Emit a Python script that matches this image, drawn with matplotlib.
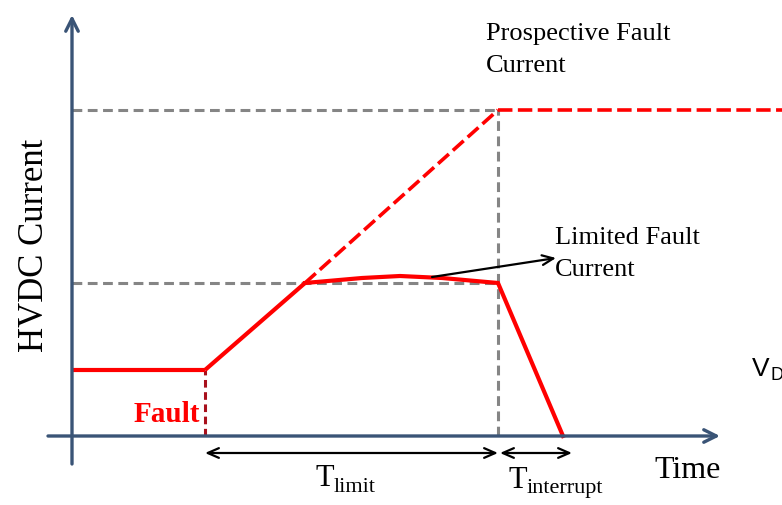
import matplotlib
matplotlib.use("Agg")
import matplotlib.pyplot as plt

## data (time and current in schematic units, origin at the axes crossing)
t_pre = [0.0, 1.33]
i_pre = [0.66, 0.66]

t_ramp = [1.33, 2.33]
i_ramp = [0.66, 1.53]

t_prosp = [2.33, 4.26]
i_prosp = [1.53, 3.26]
t_prosp_flat = [4.26, 7.2]
i_prosp_flat = [3.26, 3.26]

t_lim = [2.33, 2.9, 3.28, 3.7, 4.26, 4.91]
i_lim = [1.53, 1.58, 1.60, 1.58, 1.53, 0.0]

t_fault = 1.33
t_clear = 4.26
t_zero = 4.91
i_limit_level = 1.53
i_prosp_level = 3.26

## colors
red = "#ff0000"
darkred = "#a8101c"
gray = "#858585"
axis_col = "#3a5476"

plt.rcParams["font.family"] = ["Liberation Serif", "DejaVu Serif"]

fig = plt.figure(figsize=(7.82, 5.05), dpi=100)
ax = fig.add_axes([0, 0, 1, 1])
ax.set_xlim(-0.72, 7.10)
ax.set_ylim(-0.69, 4.36)
ax.axis("off")

# axes with open arrow heads
ax.annotate("", xy=(0, 4.21), xytext=(0, -0.28),
            arrowprops=dict(arrowstyle="->,head_length=0.9,head_width=0.45",
                            color=axis_col, lw=2.4, shrinkA=0, shrinkB=0))
ax.annotate("", xy=(6.48, 0), xytext=(-0.24, 0),
            arrowprops=dict(arrowstyle="->,head_length=0.9,head_width=0.45",
                            color=axis_col, lw=2.4, shrinkA=0, shrinkB=0))

# gray reference lines
gdash = (0, (3.2, 1.8))
ax.plot([0, t_clear], [i_prosp_level, i_prosp_level], color=gray, lw=2.2, ls=gdash)
ax.plot([0, t_clear], [i_limit_level, i_limit_level], color=gray, lw=2.2, ls=gdash)
ax.plot([t_clear, t_clear], [0, i_prosp_level], color=gray, lw=2.2, ls=gdash)

# fault marker
ax.plot([t_fault, t_fault], [0, i_pre[1]], color=darkred, lw=2.2, ls=(0, (2.5, 1.5)))

# current traces
ax.plot(t_prosp, i_prosp, color=red, lw=2.6, ls=(0, (4, 1.5)))
ax.plot(t_prosp_flat, i_prosp_flat, color=red, lw=2.6, ls=(0, (4, 1.5)))
ax.plot(t_pre, i_pre, color=red, lw=3.0, solid_capstyle="butt")
ax.plot(t_ramp, i_ramp, color=red, lw=3.0, solid_capstyle="butt")
ax.plot(t_lim, i_lim, color=red, lw=3.0, solid_joinstyle="miter")

# time spans
ax.annotate("", xy=(t_fault, -0.17), xytext=(t_clear, -0.17),
            arrowprops=dict(arrowstyle="<->,head_length=0.8,head_width=0.35",
                            color="black", lw=1.6, shrinkA=0, shrinkB=0))
ax.annotate("", xy=(t_clear + 0.02, -0.17), xytext=(t_zero + 0.09, -0.17),
            arrowprops=dict(arrowstyle="<->,head_length=0.8,head_width=0.35",
                            color="black", lw=1.6, shrinkA=0, shrinkB=0))

# limited fault current label
ax.annotate("", xy=(4.84, 1.78), xytext=(3.6, 1.59),
            arrowprops=dict(arrowstyle="->,head_length=0.8,head_width=0.35",
                            color="black", lw=1.6, shrinkA=0, shrinkB=0))
ax.text(4.83, 1.82, "Limited Fault\nCurrent", fontsize=19, ha="left", va="center",
        linespacing=1.55)

ax.text(4.14, 3.86, "Prospective Fault\nCurrent", fontsize=19, ha="left", va="center",
        linespacing=1.6)

ax.text(-0.37, 1.91, "HVDC Current", fontsize=25, rotation=90, ha="center", va="center")
ax.text(6.16, -0.34, "Time", fontsize=23, ha="center", va="center")
ax.text(t_fault - 0.05, 0.22, "Fault", fontsize=21, fontweight="bold", color=red,
        ha="right", va="center")

ax.text(2.44, -0.43, "T", fontsize=22, ha="left", va="center")
ax.text(2.62, -0.51, "limit", fontsize=16, ha="left", va="center")
ax.text(4.36, -0.45, "T", fontsize=22, ha="left", va="center")
ax.text(4.55, -0.53, "interrupt", fontsize=16, ha="left", va="center")

ax.text(6.8, 0.67, "V", fontsize=19, family="Liberation Sans", ha="left", va="center")
ax.text(6.98, 0.6, "D", fontsize=13, family="Liberation Sans", ha="left", va="center")

fig.savefig("out.png", dpi=100)
